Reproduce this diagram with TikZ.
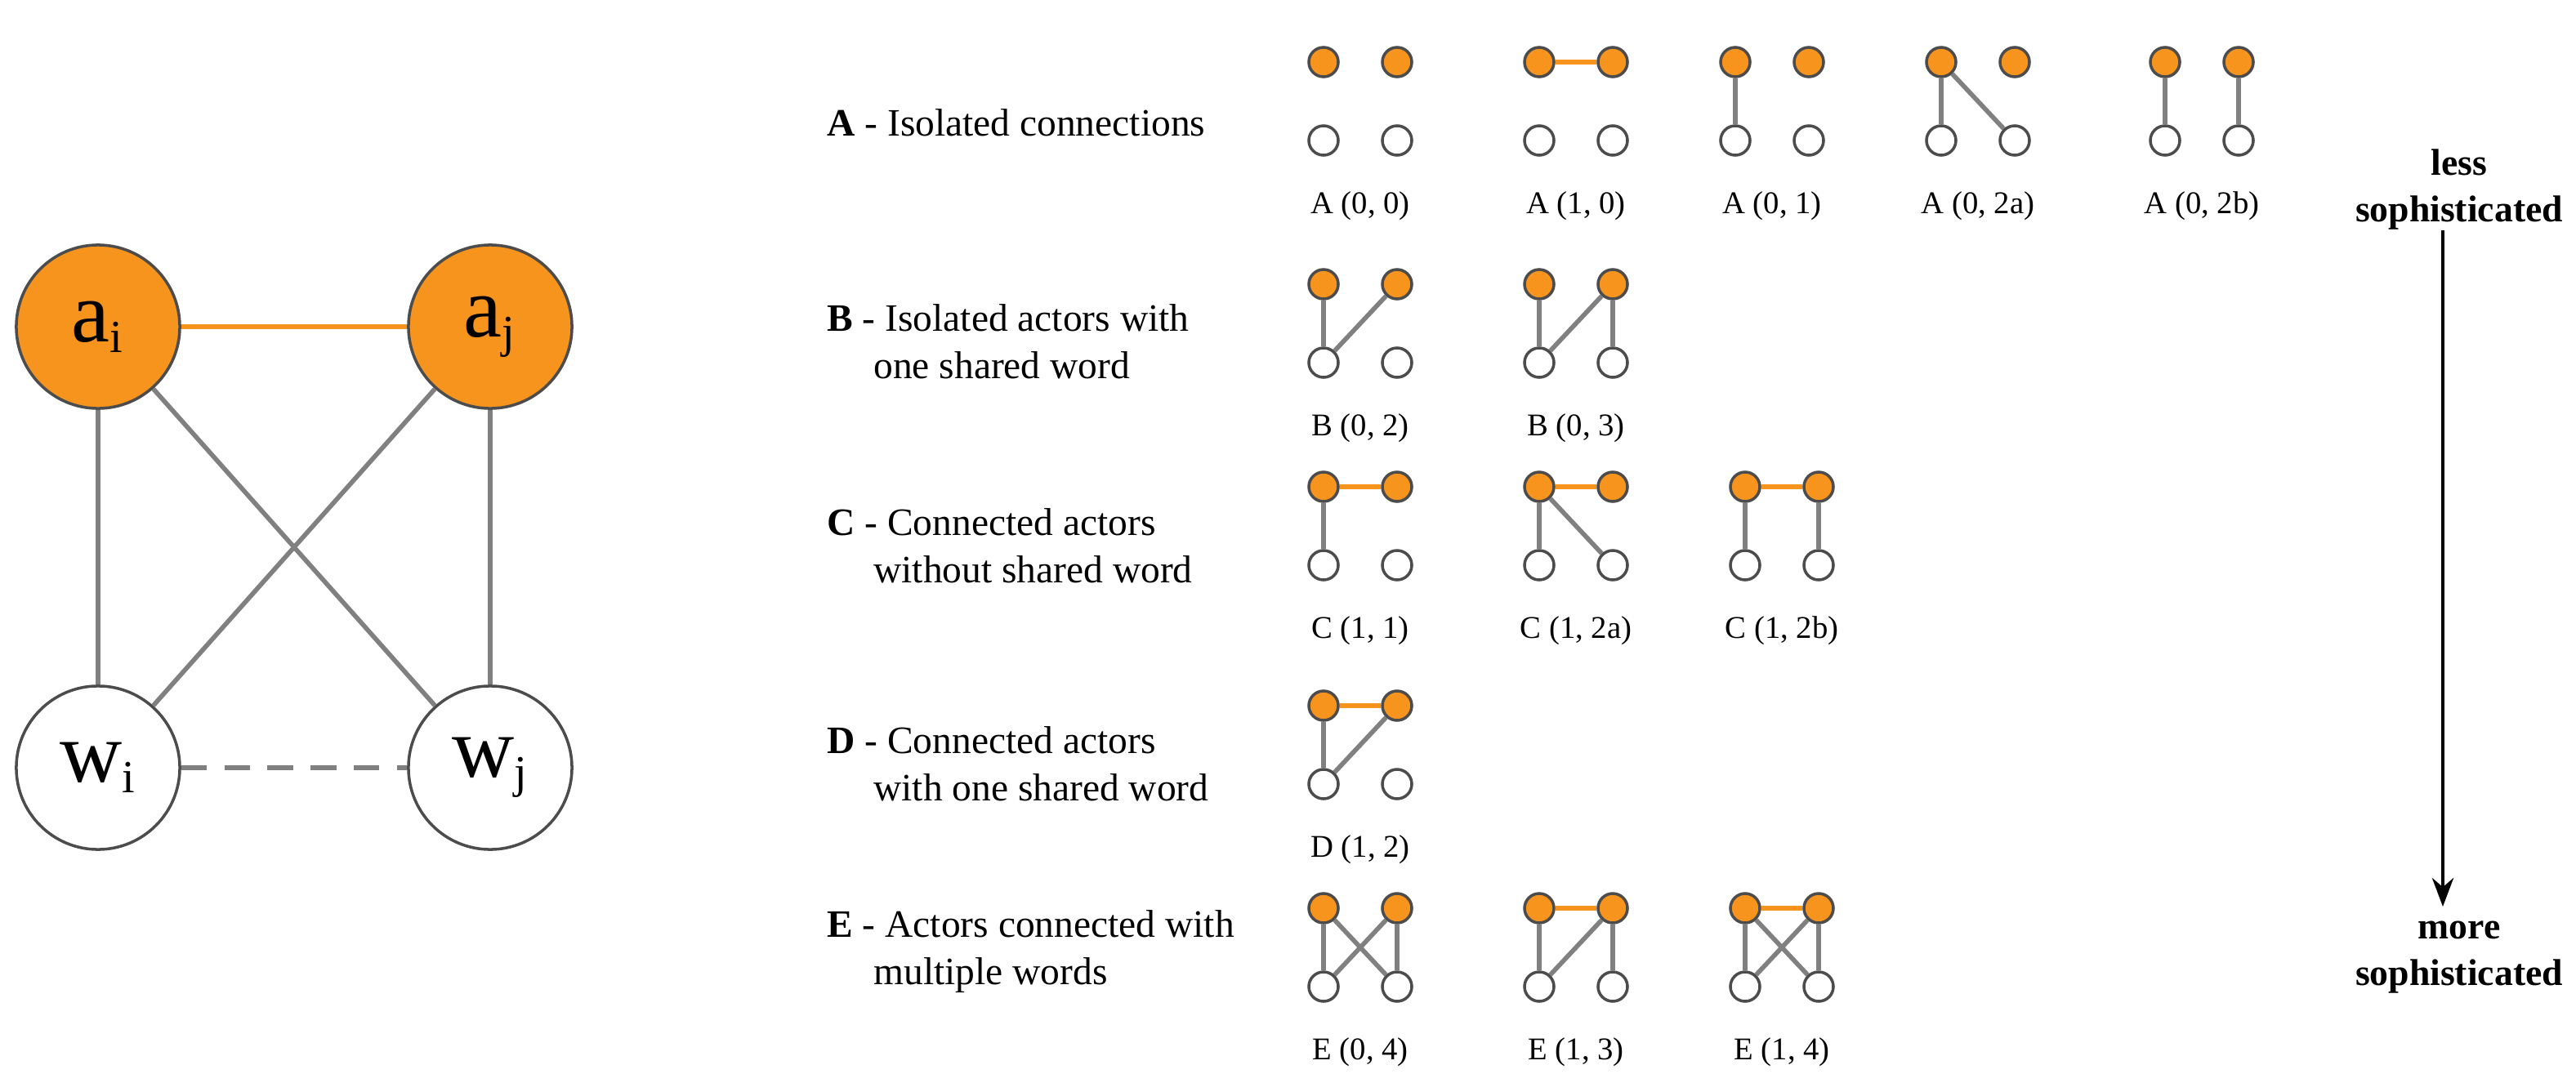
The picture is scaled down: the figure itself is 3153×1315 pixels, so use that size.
\documentclass[tikz,border=0pt]{standalone}
\usepackage{fontspec}
\setmainfont{Liberation Serif}
\usetikzlibrary{arrows.meta,backgrounds}

\definecolor{actor}{RGB}{247,148,30}
\definecolor{link}{RGB}{128,128,128}

\tikzset{
    actor/.style={circle,draw=black!70,fill=actor,line width=1pt,minimum size=0.36cm,inner sep=0pt},
    word/.style={circle,draw=black!70,fill=white,line width=1pt,minimum size=0.36cm,inner sep=0pt},
    edge/.style={draw=link,line width=1.6pt},
    tie/.style={draw=actor,line width=1.6pt},
    label/.style={font=\fontsize{11}{13}\selectfont},
    rowtext/.style={font=\fontsize{13.5}{16.5}\selectfont,anchor=west,align=left}
}

% motif: name, left x, top y, orange tie (1/0), edges, caption
\newcommand{\motif}[6]{
    \node[actor] (#1tl) at (#2,#3) {};
    \node[actor] (#1tr) at (#2+90,#3) {};
    \node[word] (#1bl) at (#2,#3+96) {};
    \node[word] (#1br) at (#2+90,#3+96) {};
    \begin{pgfonlayer}{background}
    \foreach \a/\b in {#5} {\path[edge] (#1\a) -- (#1\b);}
    \ifnum#4=1 \path[tie] (#1tl) -- (#1tr); \fi
    \end{pgfonlayer}
    \node[label] (#1cap) at (#2+45,#3+176) {#6};
}

\begin{document}
\begin{tikzpicture}[x=0.01cm,y=-0.01cm]
\useasboundingbox (0,0) rectangle (3153,1315);

% the big graph
\begin{scope}[every node/.style={circle,draw=black!70,line width=1pt,minimum size=2cm,font=\fontsize{30}{34}\selectfont}]
    \node[fill=actor] (ai) at (120,400) {a\textsubscript{\fontsize{16}{18}\selectfont i}};
    \node[fill=actor] (aj) at (600,400) {a\textsubscript{\fontsize{16}{18}\selectfont j}};
    \node[fill=white] (wi) at (120,940) {w\textsubscript{\fontsize{16}{18}\selectfont i}};
    \node[fill=white] (wj) at (600,940) {w\textsubscript{\fontsize{16}{18}\selectfont j}};
\end{scope}
\path[tie] (ai) -- (aj);
\path[edge] (ai) -- (wi);
\path[edge] (ai) -- (wj);
\path[edge] (aj) -- (wi);
\path[edge] (aj) -- (wj);
\path[edge,dash pattern=on 9pt off 6pt] (wi) -- (wj);

% row texts
\node[rowtext] (rowA) at (1000,150) {\textbf{A} - Isolated connections};
\node[rowtext] (rowB) at (1000,418) {\textbf{B} - Isolated actors with\\\hspace*{1.2em}one shared word};
\node[rowtext] (rowC) at (1000,668) {\textbf{C} - Connected actors\\\hspace*{1.2em}without shared word};
\node[rowtext] (rowD) at (1000,935) {\textbf{D} - Connected actors\\\hspace*{1.2em}with one shared word};
\node[rowtext] (rowE) at (1000,1165) {\textbf{E} - Actors connected with\\\hspace*{1.2em}multiple words};

% motifs
\motif{a1}{1620}{76}{0}{}{A (0, 0)}
\motif{a2}{1884}{76}{1}{}{A (1, 0)}
\motif{a3}{2124}{76}{0}{tl/bl}{A (0, 1)}
\motif{a4}{2376}{76}{0}{tl/bl,tl/br}{A (0, 2a)}
\motif{a5}{2650}{76}{0}{tl/bl,tr/br}{A (0, 2b)}

\motif{b1}{1620}{348}{0}{tl/bl,tr/bl}{B (0, 2)}
\motif{b2}{1884}{348}{0}{tl/bl,tr/bl,tr/br}{B (0, 3)}

\motif{c1}{1620}{596}{1}{tl/bl}{C (1, 1)}
\motif{c2}{1884}{596}{1}{tl/bl,tl/br}{C (1, 2a)}
\motif{c3}{2136}{596}{1}{tl/bl,tr/br}{C (1, 2b)}

\motif{d1}{1620}{864}{1}{tl/bl,tr/bl}{D (1, 2)}

\motif{e1}{1620}{1112}{0}{tl/bl,tl/br,tr/bl,tr/br}{E (0, 4)}
\motif{e2}{1884}{1112}{1}{tl/bl,tr/bl,tr/br}{E (1, 3)}
\motif{e3}{2136}{1112}{1}{tl/bl,tl/br,tr/bl,tr/br}{E (1, 4)}

% scale arrow
\node[font=\bfseries\fontsize{13}{16}\selectfont,align=center] (less) at (3010,232) {less\\sophisticated};
\node[font=\bfseries\fontsize{13}{16}\selectfont,align=center] (more) at (3010,1172) {more\\sophisticated};
\coordinate (top) at (2990,282);
\coordinate (bot) at (2990,1110);
\draw[-{Stealth[length=10pt]},line width=1pt] (top) -- (bot);
\end{tikzpicture}
\end{document}
